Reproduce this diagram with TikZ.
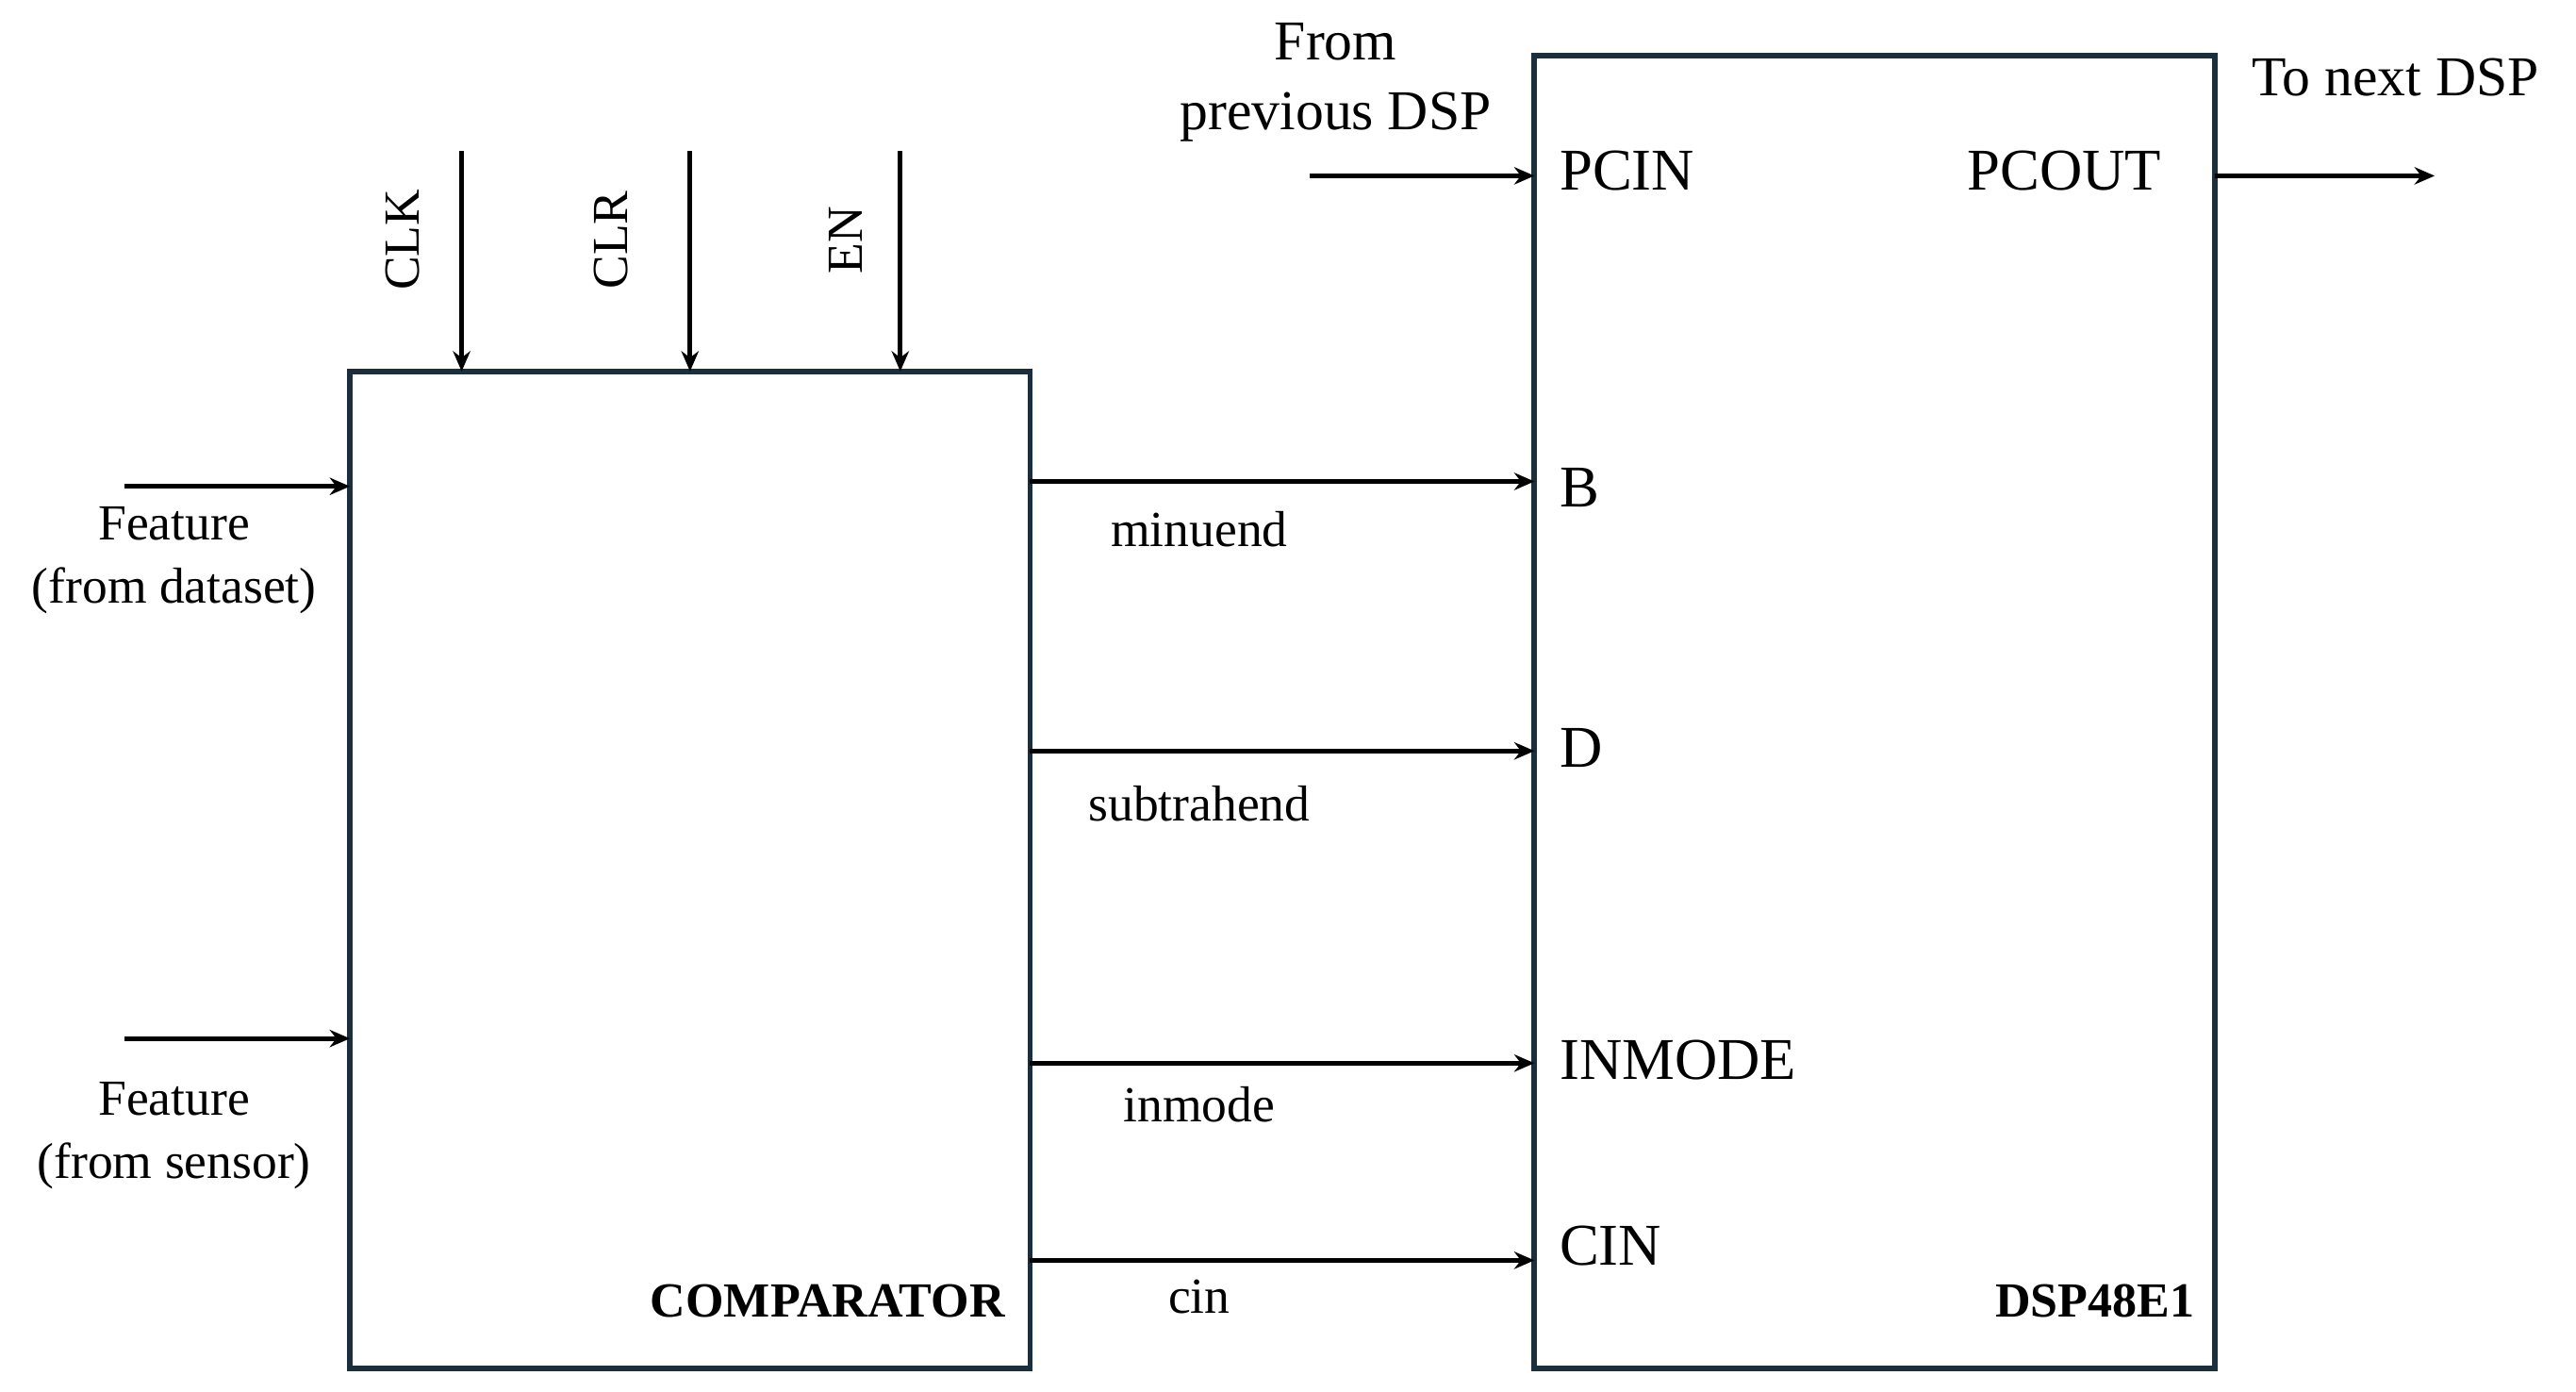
\documentclass[tikz,border=0pt]{standalone}
\usepackage{fontspec}
\setmainfont{Liberation Serif}
\usetikzlibrary{arrows.meta}
\definecolor{boxc}{HTML}{1A2E3B}
\begin{document}
\begin{tikzpicture}[x=0.02cm,y=-0.02cm,
  box/.style={draw=boxc,line width=1.9pt},
  arr/.style={line width=1.6pt,-{Stealth[length=7pt,width=6pt]}},
  port/.style={font=\fontsize{20.5}{24}\selectfont,anchor=west,inner sep=0},
  lab/.style={font=\fontsize{17.5}{22}\selectfont,align=center,inner sep=0},
  ttl/.style={font=\fontsize{17}{20}\selectfont\bfseries,inner sep=0}]
\useasboundingbox (0,0) rectangle (1568,847);
\draw[box] (213,226) rectangle (627,833);
\draw[box] (934,34) rectangle (1348,833);
\coordinate (c1) at (281,92); \coordinate (c1e) at (281,226);
\coordinate (c2) at (420,92); \coordinate (c2e) at (420,226);
\coordinate (c3) at (548,92); \coordinate (c3e) at (548,226);
\draw[arr] (c1) -- (c1e); \draw[arr] (c2) -- (c2e); \draw[arr] (c3) -- (c3e);
\node[lab,rotate=90] (lclk) at (245,146) {CLK};
\node[lab,rotate=90] (lclr) at (372,146) {CLR};
\node[lab,rotate=90] (len) at (515,146) {EN};
\coordinate (f1) at (76,296); \coordinate (f1e) at (213,296);
\coordinate (f2) at (76,632); \coordinate (f2e) at (213,632);
\draw[arr] (f1) -- (f1e); \draw[arr] (f2) -- (f2e);
\node[lab] (lf1) at (106,341) {Feature\\(from dataset)};
\node[lab] (lf2) at (106,691) {Feature\\(from sensor)};
\foreach \y/\t/\ly/\n in {293/minuend/322/a,457/subtrahend/489/b,647/inmode/672/c,767/cin/789/d}{
  \coordinate (o\n) at (627,\y); \coordinate (o\n e) at (934,\y);
  \draw[arr] (o\n) -- (o\n e);
  \node[lab] (l\n) at (730,\ly) {\t};
}
\node[port] (pb) at (949,297) {B};
\node[port] (pd) at (949,455) {D};
\node[port] (pin) at (949,645) {INMODE};
\node[port] (pcin2) at (949,758) {CIN};
\node[port] (pcin) at (949,104) {PCIN};
\node[port,anchor=east] (pcout) at (1316,104) {PCOUT};
\coordinate (pi) at (797,107); \coordinate (pie) at (934,107);
\coordinate (po) at (1348,107); \coordinate (poe) at (1482,107);
\draw[arr] (pi) -- (pie); \draw[arr] (po) -- (poe);
\node[lab,font=\fontsize{19.5}{24}\selectfont] (lfrom) at (813,50) {From\\previous DSP};
\node[lab,font=\fontsize{19.5}{24}\selectfont] (lto) at (1458,47) {To next DSP};
\node[ttl,anchor=east] (tc) at (612,792) {COMPARATOR};
\node[ttl,anchor=east] (td) at (1336,792) {DSP48E1};
\end{tikzpicture}
\end{document}
